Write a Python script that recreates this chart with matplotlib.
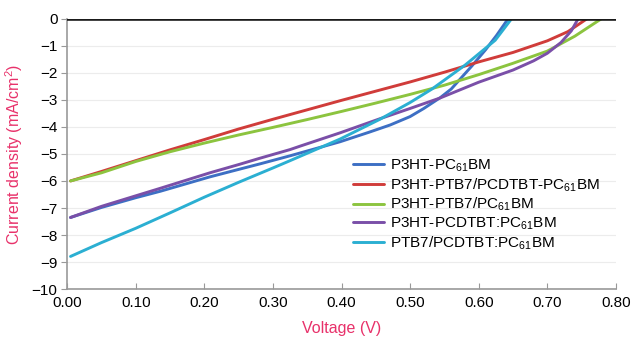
import matplotlib
matplotlib.use("Agg")
import matplotlib.pyplot as plt

plt.rcParams['font.family'] = ['Liberation Sans', 'DejaVu Sans']
plt.rcParams['mathtext.default'] = 'regular'

### data: voltage (V), current density (mA/cm2) ###
v_blue = [0.005, 0.05, 0.10, 0.136, 0.208, 0.252, 0.281, 0.325, 0.398, 0.44, 0.471, 0.50, 0.52, 0.544, 0.56, 0.59, 0.61, 0.626, 0.643]
j_blue = [-7.35, -6.98, -6.62, -6.38, -5.85, -5.56, -5.37, -5.07, -4.55, -4.2, -3.93, -3.62, -3.32, -2.92, -2.6, -1.75, -1.15, -0.62, 0.0]

v_red = [0.005, 0.05, 0.10, 0.15, 0.20, 0.25, 0.30, 0.35, 0.40, 0.45, 0.50, 0.55, 0.60, 0.65, 0.70, 0.73, 0.758]
j_red = [-6.0, -5.65, -5.25, -4.85, -4.47, -4.08, -3.72, -3.37, -3.02, -2.68, -2.34, -1.98, -1.6, -1.25, -0.82, -0.48, 0.0]

v_green = [0.005, 0.05, 0.10, 0.15, 0.20, 0.25, 0.30, 0.35, 0.40, 0.45, 0.50, 0.55, 0.60, 0.65, 0.70, 0.74, 0.779]
j_green = [-6.0, -5.7, -5.28, -4.92, -4.6, -4.3, -4.02, -3.73, -3.43, -3.12, -2.8, -2.46, -2.07, -1.65, -1.2, -0.65, 0.0]

v_purple = [0.005, 0.05, 0.10, 0.136, 0.208, 0.252, 0.281, 0.325, 0.34, 0.398, 0.456, 0.50, 0.544, 0.60, 0.65, 0.68, 0.70, 0.72, 0.735, 0.745]
j_purple = [-7.35, -6.94, -6.55, -6.27, -5.7, -5.38, -5.16, -4.84, -4.71, -4.22, -3.7, -3.32, -2.93, -2.35, -1.9, -1.56, -1.28, -0.88, -0.45, 0.0]

v_cyan = [0.005, 0.05, 0.10, 0.15, 0.20, 0.25, 0.30, 0.325, 0.398, 0.456, 0.50, 0.532, 0.58, 0.624, 0.648]
j_cyan = [-8.79, -8.28, -7.75, -7.18, -6.6, -6.05, -5.52, -5.25, -4.45, -3.72, -3.1, -2.6, -1.72, -0.8, 0.0]

labels = ["P3HT-PC$_{61}$BM", "P3HT-PTB7/PCDTBT-PC$_{61}$BM", "P3HT-PTB7/PC$_{61}$BM",
          "P3HT-PCDTBT:PC$_{61}$BM", "PTB7/PCDTBT:PC$_{61}$BM"]
colors = ["#3D6FC4", "#D03C3A", "#8CC43F", "#7A4FA8", "#2BAFD2"]

x_ticks = [0.0, 0.1, 0.2, 0.3, 0.4, 0.5, 0.6, 0.7, 0.8]
y_ticks = [0, -1, -2, -3, -4, -5, -6, -7, -8, -9, -10]

### plot ###
fig = plt.figure(figsize=(6.33, 3.39), dpi=100)
ax = fig.add_axes([0.106, 0.147, 0.867, 0.798])

series = [(v_blue, j_blue), (v_red, j_red), (v_green, j_green), (v_purple, j_purple), (v_cyan, j_cyan)]
for (v, j), c, lab in zip(series, colors, labels):
    ax.plot(v, j, color=c, lw=2.1, label=lab, solid_capstyle='round', solid_joinstyle='round')

for y in y_ticks[1:]:
    ax.axhline(y, color='#ececec', lw=0.8, zorder=0)
ax.axhline(0, color='#1a1a1a', lw=2.6, zorder=5)

ax.set_xlim(0, 0.8)
ax.set_ylim(-10, 0)
ax.set_xticks(x_ticks)
ax.set_xticklabels(["%.2f" % t for t in x_ticks])
ax.set_yticks(y_ticks)
ax.set_yticklabels([str(t).replace('-', '\u2212') for t in y_ticks])

for s in ['top', 'right']:
    ax.spines[s].set_visible(False)
ax.spines['left'].set_color('#999999')
ax.spines['bottom'].set_color('#999999')
ax.spines['left'].set_linewidth(1.2)
ax.spines['bottom'].set_linewidth(1.2)
ax.tick_params(axis='x', direction='in', length=4, color='#999999', labelsize=11, pad=5)
ax.tick_params(axis='y', direction='out', length=4, color='#999999', labelsize=11, pad=3)

pink = '#E8316A'
ax.set_xlabel("Voltage (V)", color=pink, fontsize=11.5, labelpad=8)
ax.set_ylabel("Current density (mA/cm$^2$)", color=pink, fontsize=11.5, labelpad=5)

ax.legend(loc='upper left', bbox_to_anchor=(0.51, 0.51), frameon=False, fontsize=11,
          handlelength=2.0, handletextpad=0.4, labelspacing=0.16, borderaxespad=0)

plt.savefig("out.png", dpi=100)
